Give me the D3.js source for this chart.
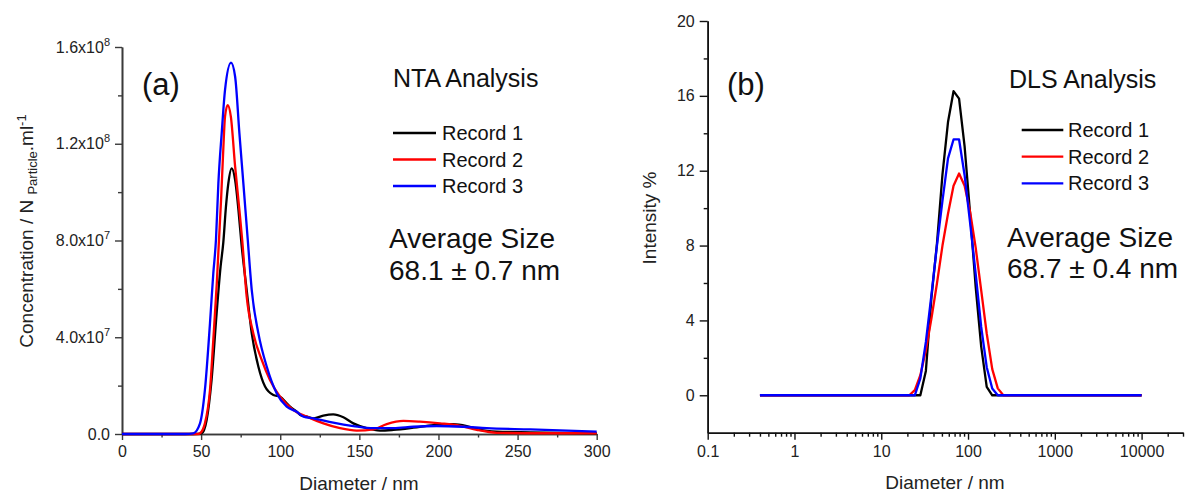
<!DOCTYPE html>
<html><head><meta charset="utf-8">
<script src="https://cdn.jsdelivr.net/npm/d3@7"></script>
<style>body{margin:0;background:#fff} svg text{font-family:"Liberation Sans",Arial,sans-serif}</style>
</head><body><svg id="c" width="1186" height="493"></svg>
<script>
// ---------- data ----------
const seriesNames = ["Record 1", "Record 2", "Record 3"];
const seriesColors = ["#000000", "#ff0000", "#0000ff"];

// NTA (a): diameter in nm, concentration in units of 1e7 particles/ml
const ntaX1 = [0,45,50.4,53.5,56.6,59.8,62.3,64.0,65.7,67.2,69.3,71.5,73.6,75.6,78.8,82.0,86.2,90.4,95.7,99.9,104.1,106.2,110.4,112.6,116.8,121.1,127.2,133.5,139.9,146.2,154.6,163.1,171.5,184.1,196.8,209.4,217.9,226.3,236.8,258,300];
const ntaY1 = [0,0,0.03,0.58,2.23,4.99,6.92,7.9,9.4,10.36,10.98,10.5,9.26,7.8,5.95,4.16,2.78,1.96,1.61,1.54,1.27,1.13,0.92,0.79,0.72,0.65,0.76,0.81,0.69,0.44,0.24,0.14,0.17,0.26,0.37,0.41,0.33,0.17,0.1,0.07,0.03];
const ntaX2 = [0,48,49.3,52.4,55.6,57.7,59.9,61.2,62.6,64.0,65.1,66.8,68.8,71.5,74.2,76.0,78.8,83.0,88.3,93.5,99.9,108.3,116.8,127.3,137.8,148.4,158.9,167.3,177.8,188.3,201,213.6,224.2,236.8,268.4,300];
const ntaY2 = [0,0,0.03,0.44,1.82,3.89,6.23,7.9,9.67,11.74,13.12,13.6,13.12,11.05,9.26,8.0,5.68,4.16,3.06,2.23,1.54,0.99,0.72,0.44,0.24,0.14,0.19,0.41,0.54,0.51,0.44,0.34,0.17,0.05,0.03,0.03];
const ntaX3 = [0,40,45.1,49.3,52.4,55.6,57.7,59.4,60.9,63.0,65.1,68.9,71.5,74.2,76.7,79.4,82.0,86.2,91.5,97.8,104.1,110.4,114.7,121.1,133.5,146.2,158.9,171.5,184.1,198.9,215.7,230.5,258,300];
const ntaY3 = [0,0,0.03,0.44,1.82,4.58,6.64,8.05,10.36,12.43,14.22,15.35,14.77,12.43,10.36,8.1,5.95,4.16,2.78,1.68,1.13,0.92,0.72,0.65,0.47,0.33,0.24,0.24,0.3,0.33,0.3,0.24,0.19,0.1];

// DLS (b): size classes in nm, intensity %
const dlsSize = [0.4,15.69,18.17,21.04,24.36,28.21,32.67,37.84,43.82,50.75,58.77,68.06,78.82,91.28,105.7,122.4,141.8,164.2,190.1,220.2,255.0,295.3,10000];
const dlsY1 = [0,0,0,0,0,0,1.3,5.2,8.1,11.8,14.6,16.25,15.85,13.3,9.7,5.8,2.6,0.45,0,0,0,0,0];
const dlsY2 = [0,0,0,0,0.27,1.07,2.4,4.1,5.97,8.0,9.7,11.2,11.85,11.2,9.8,7.9,5.6,3.3,1.4,0.37,0,0,0];
const dlsY3 = [0,0,0,0,0,0.9,2.85,5.35,8.0,10.4,12.66,13.67,13.67,11.76,9.2,6.5,3.65,1.5,0.36,0,0,0,0];

// ticks
const ntaXTicks = [0,50,100,150,200,250,300];
const ntaXMinor = [25,75,125,175,225,275];
const ntaYTicks = [0,4,8,12,16];            // x1e7
const ntaYTickMant = ["0.0","4.0","8.0","1.2","1.6"];
const ntaYTickExp = ["","7","7","8","8"];
const ntaYMinor = [2,6,10,14];
const dlsXTicks = [0.1,1,10,100,1000,10000];
const dlsXTickLabels = ["0.1","1","10","100","1000","10000"];
const dlsYTicks = [0,4,8,12,16,20];
const dlsYMinor = [2,6,10,14,18];

// ---------- drawing ----------
const svg = d3.select("#c");
const FONT_TICK = 16, FONT_TITLE = 19;

function drawSeries(g, xs, ys, xScale, yScale, color, curve) {
  const pts = xs.map((x, i) => [x, ys[i]]);
  g.append("path").datum(pts)
    .attr("fill", "none").attr("stroke", color).attr("stroke-width", 2.3)
    .attr("stroke-linejoin", "round")
    .attr("d", d3.line().x(d => xScale(d[0])).y(d => yScale(d[1])).curve(curve));
}
function styleAxis(g, color) {
  g.select(".domain").attr("stroke", color).attr("stroke-width", 1.6);
  g.selectAll(".tick line").attr("stroke", color).attr("stroke-width", 1.4);
  g.selectAll(".tick text").attr("fill", "#222").attr("font-size", FONT_TICK)
    .attr("font-family", "'Liberation Sans',Arial,sans-serif");
}

// ----- panel (a) NTA -----
const xA = d3.scaleLinear().domain([0, 300]).range([122, 596.7]);
const yA = d3.scaleLinear().domain([0, 16]).range([434, 47]);
const axA = "#3a3a3a";

const gxA = svg.append("g").attr("transform", `translate(0,${yA(0)})`)
  .call(d3.axisBottom(xA).tickValues(ntaXTicks).tickSize(6).tickSizeOuter(0).tickPadding(6));
styleAxis(gxA, axA);
const gxAm = svg.append("g").attr("transform", `translate(0,${yA(0)})`)
  .call(d3.axisBottom(xA).tickValues(ntaXMinor).tickSize(3.5).tickSizeOuter(0).tickFormat(""));
styleAxis(gxAm, axA);

const gyA = svg.append("g").attr("transform", `translate(${xA(0)},0)`)
  .call(d3.axisLeft(yA).tickValues(ntaYTicks).tickSize(7).tickSizeOuter(0).tickPadding(5));
styleAxis(gyA, axA);
gyA.selectAll(".tick text").each(function(d, i) {
  const t = d3.select(this); t.text(null);
  t.append("tspan").text(ntaYTickMant[i] + (ntaYTickExp[i] ? "x10" : ""));
  if (ntaYTickExp[i]) t.append("tspan").attr("dy", -7).attr("font-size", 11).text(ntaYTickExp[i]);
});
const gyAm = svg.append("g").attr("transform", `translate(${xA(0)},0)`)
  .call(d3.axisLeft(yA).tickValues(ntaYMinor).tickSize(4).tickSizeOuter(0).tickFormat(""));
styleAxis(gyAm, axA);

const gA = svg.append("g");
drawSeries(gA, ntaX1, ntaY1, xA, yA, seriesColors[0], d3.curveMonotoneX);
drawSeries(gA, ntaX2, ntaY2, xA, yA, seriesColors[1], d3.curveMonotoneX);
drawSeries(gA, ntaX3, ntaY3, xA, yA, seriesColors[2], d3.curveMonotoneX);

// titles (a)
svg.append("text").attr("x", 359).attr("y", 490).attr("text-anchor", "middle")
  .attr("font-size", FONT_TITLE).attr("fill", "#222").text("Diameter / nm");
const ytA = svg.append("text").attr("transform", "translate(33,231) rotate(-90)")
  .attr("text-anchor", "middle").attr("font-size", FONT_TITLE).attr("fill", "#222");
ytA.append("tspan").text("Concentration / N ");
ytA.append("tspan").attr("font-size", 13).attr("dy", 4).text("Particle");
ytA.append("tspan").attr("dy", -4).text(".ml");
ytA.append("tspan").attr("font-size", 13).attr("dy", -7).text("-1");

svg.append("text").attr("x", 142).attr("y", 95).attr("font-size", 31).attr("fill", "#111").text("(a)");
svg.append("text").attr("x", 393).attr("y", 87).attr("font-size", 25).attr("fill", "#111").text("NTA Analysis");
const legA = [133, 159.5, 186];
seriesNames.forEach((n, i) => {
  svg.append("line").attr("x1", 393).attr("x2", 436).attr("y1", legA[i]).attr("y2", legA[i])
    .attr("stroke", seriesColors[i]).attr("stroke-width", 2.3);
  svg.append("text").attr("x", 442).attr("y", legA[i] + 7).attr("font-size", 20).attr("fill", "#111").text(n);
});
svg.append("text").attr("x", 389).attr("y", 248).attr("font-size", 28).attr("fill", "#111").text("Average Size");
svg.append("text").attr("x", 389).attr("y", 280).attr("font-size", 28).attr("fill", "#111").text("68.1 \u00b1 0.7 nm");

// ----- panel (b) DLS -----
const xB = d3.scaleLog().domain([0.1, 30000]).range([707.7, 1183]);
const yB = d3.scaleLinear().domain([-2, 20]).range([432.7, 21]);
const axB = "#111";

const dlsXMinor = [];
[0.1, 1, 10, 100, 1000, 10000].forEach(dec => {
  for (let k = 2; k <= 9; k++) { const v = dec * k; if (v <= 30000) dlsXMinor.push(v); }
});

const gxB = svg.append("g").attr("transform", `translate(0,${yB(-2)})`)
  .call(d3.axisBottom(xB).tickValues(dlsXTicks).tickSize(7).tickSizeOuter(0).tickPadding(6)
    .tickFormat((d, i) => dlsXTickLabels[i]));
styleAxis(gxB, axB);
const gxBm = svg.append("g").attr("transform", `translate(0,${yB(-2)})`)
  .call(d3.axisBottom(xB).tickValues(dlsXMinor).tickSize(4).tickSizeOuter(0).tickFormat(""));
styleAxis(gxBm, axB);

const gyB = svg.append("g").attr("transform", `translate(${xB(0.1)},0)`)
  .call(d3.axisLeft(yB).tickValues(dlsYTicks).tickSize(8).tickSizeOuter(0).tickPadding(5));
styleAxis(gyB, axB);
const gyBm = svg.append("g").attr("transform", `translate(${xB(0.1)},0)`)
  .call(d3.axisLeft(yB).tickValues(dlsYMinor).tickSize(4).tickSizeOuter(0).tickFormat(""));
styleAxis(gyBm, axB);

const gB = svg.append("g");
drawSeries(gB, dlsSize, dlsY1, xB, yB, seriesColors[0], d3.curveLinear);
drawSeries(gB, dlsSize, dlsY2, xB, yB, seriesColors[1], d3.curveLinear);
drawSeries(gB, dlsSize, dlsY3, xB, yB, seriesColors[2], d3.curveLinear);

svg.append("text").attr("x", 945).attr("y", 489).attr("text-anchor", "middle")
  .attr("font-size", FONT_TITLE).attr("fill", "#222").text("Diameter / nm");
svg.append("text").attr("transform", "translate(656,218) rotate(-90)")
  .attr("text-anchor", "middle").attr("font-size", FONT_TITLE).attr("fill", "#222").text("Intensity %");

svg.append("text").attr("x", 727).attr("y", 95).attr("font-size", 31).attr("fill", "#111").text("(b)");
svg.append("text").attr("x", 1009).attr("y", 88).attr("font-size", 25).attr("fill", "#111").text("DLS Analysis");
const legB = [130, 156.7, 183.3];
seriesNames.forEach((n, i) => {
  svg.append("line").attr("x1", 1021.7).attr("x2", 1063.3).attr("y1", legB[i]).attr("y2", legB[i])
    .attr("stroke", seriesColors[i]).attr("stroke-width", 2.3);
  svg.append("text").attr("x", 1068).attr("y", legB[i] + 7).attr("font-size", 20).attr("fill", "#111").text(n);
});
svg.append("text").attr("x", 1007).attr("y", 247).attr("font-size", 28).attr("fill", "#111").text("Average Size");
svg.append("text").attr("x", 1007).attr("y", 278).attr("font-size", 28).attr("fill", "#111").text("68.7 \u00b1 0.4 nm");
</script></body></html>
